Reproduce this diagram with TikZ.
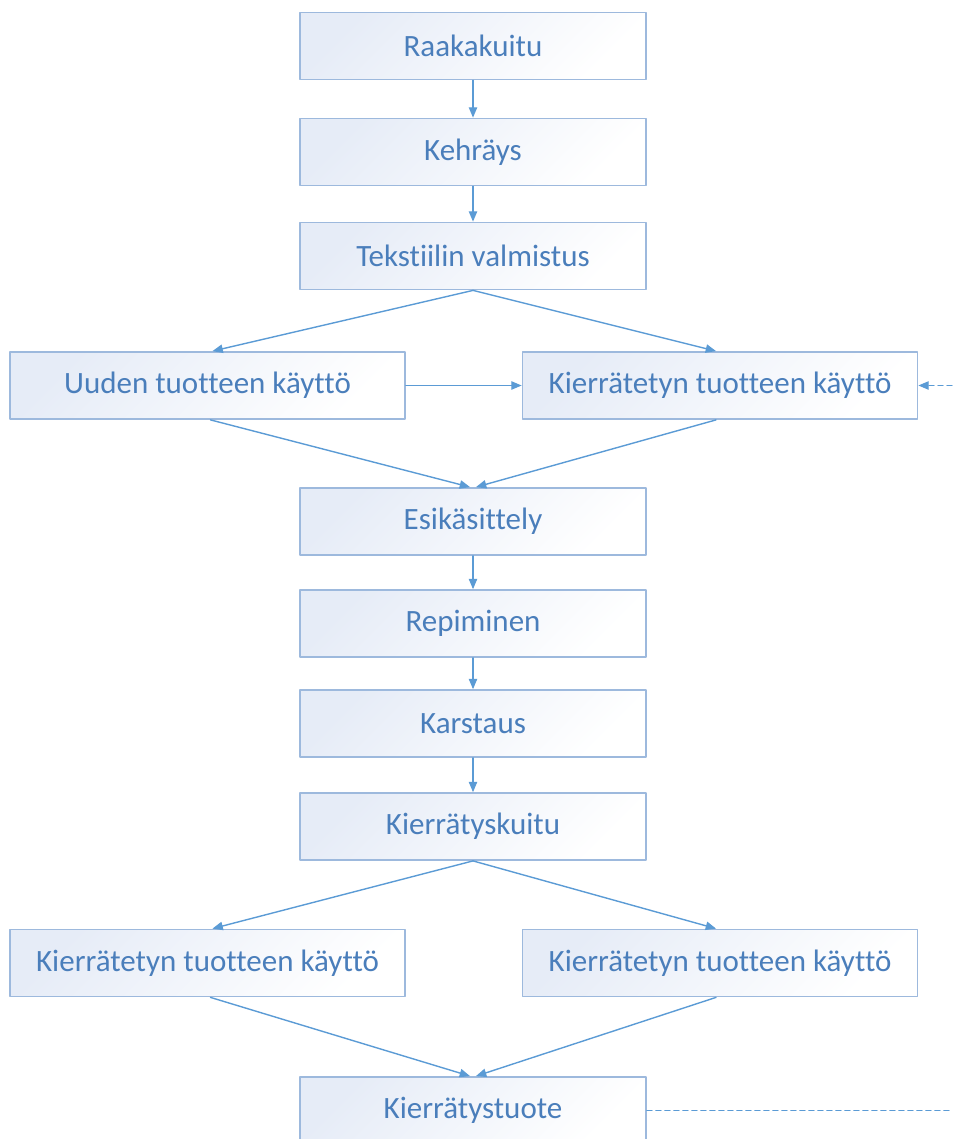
\documentclass[tikz,border=0pt]{standalone}
\usepackage{fontspec}
\setmainfont{Carlito}[Ligatures=NoCommon]
\usetikzlibrary{arrows}
\definecolor{boxline}{HTML}{9DB9DD}
\definecolor{boxfill}{HTML}{E6ECF7}
\definecolor{boxtext}{HTML}{4A7EBB}
\definecolor{arrowcol}{HTML}{5B9BD5}
\tikzset{
  box/.style={draw=boxline, line width=1.8pt, top color=boxfill, bottom color=white, shading angle=45,
    minimum width=346pt, minimum height=67pt, text=boxtext, font=\fontsize{31}{36}\selectfont},
  widebox/.style={box, minimum width=395pt},
  conn/.style={->, draw=arrowcol, line width=1.4pt},
  loop/.style={conn, dashed, dash pattern=on 5pt off 4pt}
}
\begin{document}
\begin{tikzpicture}[line cap=round,line join=round,>=triangle 45,x=1pt,y=-1pt]
\useasboundingbox (0,0) rectangle (952,1139);
% main column
\node[box] (raaka) at (473,46) {Raakakuitu};
\node[box] (kehr) at (473,152) {Kehräys};
\node[box] (teks) at (473,256) {Tekstiilin valmistus};
\node[widebox] (uusi) at (207.5,385.5) {Uuden tuotteen käyttö};
\node[widebox] (kaytto) at (720,385.5) {Kierrätetyn tuotteen käyttö};
\node[box] (esi) at (473,521.5) {Esikäsittely};
\node[box] (repi) at (473,623.5) {Repiminen};
\node[box] (kars) at (473,723.5) {Karstaus};
\node[box] (kuitu) at (473,826.5) {Kierrätyskuitu};
\node[widebox] (kayttoA) at (207.5,963) {Kierrätetyn tuotteen käyttö};
\node[widebox] (kayttoB) at (720,963) {Kierrätetyn tuotteen käyttö};
\node[box] (tuote) at (473,1110.5) {Kierrätystuote};
\coordinate (loopin) at (952,385.5);
\coordinate (loopout) at (952,1110.5);
% connectors
\draw[conn] (raaka) -- (kehr);
\draw[conn] (kehr) -- (teks);
\draw[conn] (teks.south) -- ([xshift=5pt]uusi.north);
\draw[conn] (teks.south) -- ([xshift=-4pt]kaytto.north);
\draw[conn] (uusi) -- (kaytto);
\draw[conn] ([xshift=3pt]uusi.south) -- ([xshift=-3pt]esi.north);
\draw[conn] ([xshift=-4pt]kaytto.south) -- ([xshift=3pt]esi.north);
\draw[conn] (esi) -- (repi);
\draw[conn] (repi) -- (kars);
\draw[conn] (kars) -- (kuitu);
\draw[conn] (kuitu.south) -- ([xshift=5pt]kayttoA.north);
\draw[conn] (kuitu.south) -- ([xshift=-4pt]kayttoB.north);
\draw[conn] ([xshift=3pt]kayttoA.south) -- ([xshift=-3pt]tuote.north);
\draw[conn] ([xshift=-4pt]kayttoB.south) -- ([xshift=3pt]tuote.north);
\draw[loop] (loopin) -- (kaytto.east);
\draw[loop,-] (tuote.east) -- (loopout);
\end{tikzpicture}
\end{document}
